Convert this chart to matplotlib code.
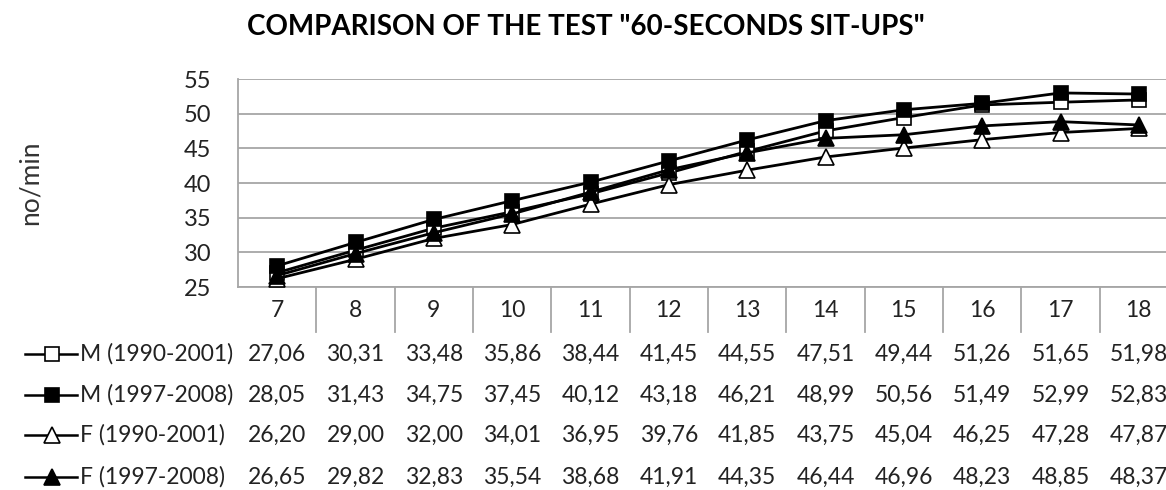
import matplotlib.pyplot as plt
from matplotlib.lines import Line2D
from matplotlib.transforms import blended_transform_factory
import numpy as np

plt.rcParams['font.family'] = ['Lato', 'DejaVu Sans']

ages = [7, 8, 9, 10, 11, 12, 13, 14, 15, 16, 17, 18]
m_1990 = [27.06, 30.31, 33.48, 35.86, 38.44, 41.45, 44.55, 47.51, 49.44, 51.26, 51.65, 51.98]
m_1997 = [28.05, 31.43, 34.75, 37.45, 40.12, 43.18, 46.21, 48.99, 50.56, 51.49, 52.99, 52.83]
f_1990 = [26.20, 29.00, 32.00, 34.01, 36.95, 39.76, 41.85, 43.75, 45.04, 46.25, 47.28, 47.87]
f_1997 = [26.65, 29.82, 32.83, 35.54, 38.68, 41.91, 44.35, 46.44, 46.96, 48.23, 48.85, 48.37]
series_names = ['M (1990-2001)', 'M (1997-2008)', 'F (1990-2001)', 'F (1997-2008)']

W, H = 1166, 490
fig = plt.figure(figsize=(W / 100, H / 100), dpi=100)

def fx(px):
    return px / W

def fy(py):
    return 1 - py / H

# plot area runs a little past the right edge of the figure
left, width, top, bottom = 238, 940, 79, 287
ax = fig.add_axes([fx(left), fy(bottom), width / W, (bottom - top) / H])

x = np.arange(len(ages))
styles = [
    dict(marker='s', mfc='white', ms=9.5),
    dict(marker='s', mfc='black', ms=9.5),
    dict(marker='^', mfc='white', ms=11.5),
    dict(marker='^', mfc='black', ms=11.5),
]
all_series = [m_1990, m_1997, f_1990, f_1997]
for vals, st in zip(all_series, styles):
    ax.plot(x, vals, color='black', lw=2, mec='black', mew=1.2, zorder=3, **st)

ax.set_xlim(-0.5, len(ages) - 0.5)
ax.set_ylim(25, 55)
ax.set_yticks(range(25, 56, 5))
ax.set_xticks([])
ax.grid(axis='y', color='#a6a6a6', lw=1.3)
ax.set_axisbelow(True)
for s in ['top', 'right']:
    ax.spines[s].set_visible(False)
for s in ['left', 'bottom']:
    ax.spines[s].set_color('#a6a6a6')
    ax.spines[s].set_linewidth(1.3)
ax.tick_params(axis='y', length=0, labelsize=17, pad=19, colors='#222222')

fig.text(fx(30), fy(183), 'no/min', rotation=90, ha='center', va='center',
         fontsize=19, color='#333333')
fig.text(fx(586), fy(27), 'COMPARISON OF THE TEST "60-SECONDS SIT-UPS"',
         ha='center', va='center', fontsize=20, fontweight='bold')

# data table under the plot
trans = blended_transform_factory(ax.transData, fig.transFigure)

for i, a in enumerate(ages):
    ax.text(i, fy(310), str(a), transform=trans, ha='center', va='center',
            fontsize=16.5, color='#222222')
for i in range(1, len(ages)):
    ax.add_line(Line2D([i - 0.5, i - 0.5], [fy(bottom), fy(332)], transform=trans,
                       color='#a6a6a6', lw=1.3, clip_on=False))

row_y = [354, 395, 435, 477]
for vals, name, st, py in zip(all_series, series_names, styles, row_y):
    for i, v in enumerate(vals):
        ax.text(i, fy(py), f'{v:.2f}'.replace('.', ','), transform=trans,
                ha='center', va='center', fontsize=16.5, color='#222222')
    fig.add_artist(Line2D([fx(25), fx(77)], [fy(py), fy(py)], color='black', lw=1.8,
                          transform=fig.transFigure))
    fig.add_artist(Line2D([fx(52)], [fy(py)], color='black', mec='black', mew=1.2,
                          transform=fig.transFigure, **st))
    fig.text(fx(80), fy(py), name, ha='left', va='center', fontsize=16.5, color='#222222')

fig.savefig('out.png', dpi=100)
